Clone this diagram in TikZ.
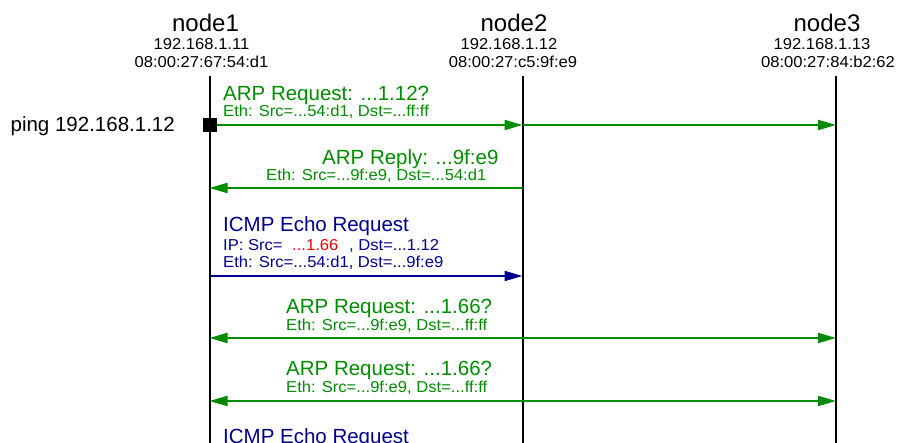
\documentclass[tikz,border=0pt]{standalone}
\usepackage{fontspec}
\setmainfont{Liberation Sans}
\newfontfamily\subfont[FakeStretch=1.05]{Liberation Sans}
\usetikzlibrary{arrows.meta}
\definecolor{arpgreen}{RGB}{0,140,0}
\definecolor{icmpblue}{RGB}{0,0,140}
\definecolor{ipred}{RGB}{240,0,0}
\begin{document}
\begin{tikzpicture}[x=1pt,y=-1pt,
  title/.style={font=\fontsize{24}{28}\selectfont, inner sep=0pt, anchor=base},
  addr/.style={font=\subfont\fontsize{15.8}{18}\selectfont, inner sep=0pt, anchor=base},
  msg/.style={font=\fontsize{20.5}{24}\selectfont, inner sep=0pt, anchor=base west},
  sub/.style={font=\subfont\fontsize{15.8}{18}\selectfont, inner sep=0pt, anchor=base west},
  life/.style={line width=2pt, black},
  msgline/.style={line width=2pt},
  tip/.style={-{Triangle[length=18pt,width=10pt]}},
  bitip/.style={{Triangle[length=18pt,width=10pt]}-{Triangle[length=18pt,width=10pt]}}
]
\useasboundingbox (0,0) rectangle (898,443);

% lifelines
\coordinate (n1top) at (209.5,76);
\coordinate (n2top) at (522.5,76);
\coordinate (n3top) at (836,76);
\coordinate (n1bot) at (209.5,450);
\coordinate (n2bot) at (522.5,450);
\coordinate (n3bot) at (836,450);
\draw[life] (n1top) -- (n1bot);
\draw[life] (n2top) -- (n2bot);
\draw[life] (n3top) -- (n3bot);

% headers
\node[title] (t1) at (205.5,32) {node1};
\node[addr] (ip1) at (201.5,50) {192.168.1.11};
\node[addr] (mac1) at (201.5,68) {08:00:27:67:54:d1};
\node[title] (t2) at (514,32) {node2};
\node[addr] (ip2) at (509,50) {192.168.1.12};
\node[addr] (mac2) at (513,68) {08:00:27:c5:9f:e9};
\node[title] (t3) at (827,32) {node3};
\node[addr] (ip3) at (822,50) {192.168.1.13};
\node[addr] (mac3) at (828,68) {08:00:27:84:b2:62};

% message rows
\coordinate (y1) at (0,125);
\coordinate (y2) at (0,188);
\coordinate (y3) at (0,276);
\coordinate (y4) at (0,338);
\coordinate (y5) at (0,401);

% ping
\node[font=\fontsize{20.5}{24}\selectfont, inner sep=0pt, anchor=base east] (ping) at (175,132) {ping 192.168.1.12};

% message 1
\node[msg, text=arpgreen] (m1a) at (223,100.5) {ARP Request: ...1.12?};
\node[sub, text=arpgreen] (m1b) at (223,117) {Eth: Src=...54:d1, Dst=...ff:ff};
\draw[msgline, arpgreen, tip] (n1top|-y1) -- (n2top|-y1);
\draw[msgline, arpgreen, tip] (n2top|-y1) -- (n3top|-y1);
\node[fill=black, minimum size=14pt, inner sep=0pt] (sq) at (n1top|-y1) {};

% message 2
\node[msg, text=arpgreen] (m2a) at (322,164.5) {ARP Reply: ...9f:e9};
\node[sub, text=arpgreen] (m2b) at (266,181) {Eth: Src=...9f:e9, Dst=...54:d1};
\draw[msgline, arpgreen, tip] (n2top|-y2) -- (n1top|-y2);

% message 3
\node[msg, text=icmpblue] (m3a) at (223,232) {ICMP Echo Request};
\node[sub, text=icmpblue] (m3b) at (223,251) {IP: Src=};
\node[sub, text=ipred] (m3c) at (292,251) {...1.66};
\node[sub, text=icmpblue] (m3d) at (349,251) {, Dst=...1.12};
\node[sub, text=icmpblue] (m3e) at (223,268) {Eth: Src=...54:d1, Dst=...9f:e9};
\draw[msgline, icmpblue, tip] (n1top|-y3) -- (n2top|-y3);

% message 4
\node[msg, text=arpgreen] (m4a) at (286,313.5) {ARP Request: ...1.66?};
\node[sub, text=arpgreen] (m4b) at (286,330.5) {Eth: Src=...9f:e9, Dst=...ff:ff};
\draw[msgline, arpgreen, bitip] (n1top|-y4) -- (n3top|-y4);

% message 5
\node[msg, text=arpgreen] (m5a) at (286,376) {ARP Request: ...1.66?};
\node[sub, text=arpgreen] (m5b) at (286,393) {Eth: Src=...9f:e9, Dst=...ff:ff};
\draw[msgline, arpgreen, bitip] (n1top|-y5) -- (n3top|-y5);

% message 6 (cut off at the lower edge, as in the reference)
\node[msg, text=icmpblue] (m6a) at (223,444) {ICMP Echo Request};
\end{tikzpicture}
\end{document}
